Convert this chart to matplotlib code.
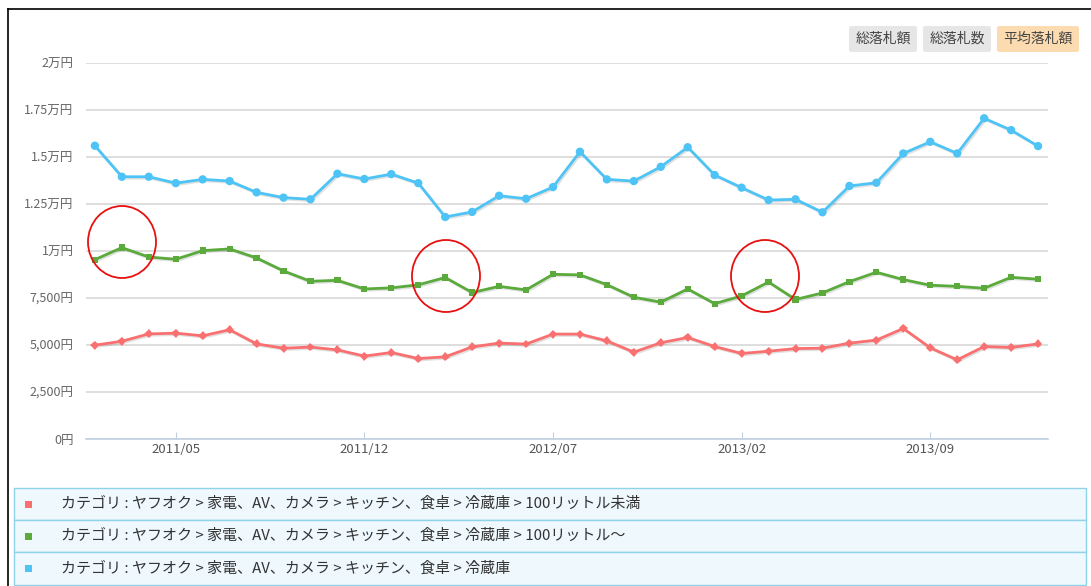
import matplotlib
matplotlib.use('Agg')
import matplotlib.pyplot as plt
from matplotlib.patches import Rectangle, Ellipse, FancyBboxPatch
import matplotlib.patheffects as pe

plt.rcParams['font.family'] = ['Noto Sans CJK JP', 'DejaVu Sans']

# monthly points 2011/02 .. 2014/01
months = [f'{2011 + (m + 1) // 12}/{(m + 1) % 12 + 1:02d}' for m in range(36)]
tick_idx = [3, 10, 17, 24, 31]
tick_labels = ['2011/05', '2011/12', '2012/07', '2013/02', '2013/09']

yticks = [0, 2500, 5000, 7500, 10000, 12500, 15000, 17500, 20000]
ytick_labels = ['0円', '2,500円', '5,000円', '7,500円', '1万円',
                '1.25万円', '1.5万円', '1.75万円', '2万円']

red_vals = [4990, 5200, 5590, 5630, 5490, 5810, 5060, 4830, 4890, 4740,
            4410, 4600, 4280, 4370, 4900, 5100, 5050, 5580, 5580, 5220,
            4620, 5120, 5400, 4920, 4550, 4670, 4810, 4830, 5100, 5260,
            5880, 4850, 4210, 4920, 4870, 5060]
green_vals = [9540, 10180, 9680, 9560, 10020, 10110, 9630, 8940, 8390, 8440,
              7980, 8040, 8200, 8590, 7790, 8120, 7930, 8760, 8730, 8210,
              7540, 7280, 7980, 7200, 7610, 8350, 7420, 7770, 8370, 8870,
              8480, 8180, 8120, 8020, 8600, 8500]
blue_vals = [15600, 13950, 13950, 13610, 13810, 13720, 13120, 12840, 12750, 14110,
             13830, 14090, 13610, 11810, 12080, 12940, 12780, 13400, 15280, 13810,
             13720, 14480, 15520, 14040, 13370, 12710, 12750, 12060, 13460, 13630,
             15190, 15810, 15190, 17060, 16430, 15580]

series_names = [
    'カテゴリ : ヤフオク > 家電、AV、カメラ > キッチン、食卓 > 冷蔵庫 > 100リットル未満',
    'カテゴリ : ヤフオク > 家電、AV、カメラ > キッチン、食卓 > 冷蔵庫 > 100リットル～',
    'カテゴリ : ヤフオク > 家電、AV、カメラ > キッチン、食卓 > 冷蔵庫',
]
colors = ['#fa7070', '#5aaa3c', '#4ec4f6']
markers = ['D', 's', 'o']
msizes = [4.5, 4.5, 6]
buttons = ['総落札額', '総落札数', '平均落札額']

W, H = 1091, 586
fig = plt.figure(figsize=(W / 100, H / 100), dpi=100)


def fx(px):
    return px / W


def fy(py):
    return 1 - py / H


ax = fig.add_axes([fx(86), fy(439), fx(1048) - fx(86), fy(63) - fy(439)])
x = list(range(len(months)))
shadow = [pe.SimpleLineShadow(offset=(1, -1), shadow_color='#000000', alpha=0.12), pe.Normal()]
for vals, c, m, ms in zip([red_vals, green_vals, blue_vals], colors, markers, msizes):
    ax.plot(x, vals, color=c, lw=2, marker=m, markersize=ms, markeredgewidth=0,
            path_effects=shadow, zorder=3)

ax.set_xlim(-0.33, 35.37)
ax.set_ylim(0, 20000)
ax.set_yticks(yticks)
ax.set_yticklabels(ytick_labels)
ax.set_xticks(tick_idx)
ax.set_xticklabels(tick_labels)
ax.grid(axis='y', color='#d8d8d8', lw=1.2)
ax.set_axisbelow(True)
for s in ['top', 'right', 'left']:
    ax.spines[s].set_visible(False)
ax.spines['bottom'].set_color('#c0d0e0')
ax.spines['bottom'].set_linewidth(1.2)
ax.tick_params(axis='y', length=0, pad=9, labelsize=9, labelcolor='#666666')
ax.tick_params(axis='x', direction='in', length=5, color='#c0d0e0', pad=3,
               labelsize=9.5, labelcolor='#555555')

# red annotation circles
for cx, cy in [(122, 242), (446, 276), (765, 276)]:
    fig.add_artist(Ellipse((fx(cx), fy(cy)), 2 * 34 / W, 2 * 36 / H,
                           transform=fig.transFigure, fill=False,
                           edgecolor='#e81010', lw=1.3))

# buttons
for (x0, x1), label, bg in zip([(849, 917), (923, 991), (997, 1079)], buttons,
                               ['#e6e6e6', '#e6e6e6', '#fddbb0']):
    fig.add_artist(FancyBboxPatch((fx(x0), fy(52)), fx(x1) - fx(x0), fy(26) - fy(52),
                                  boxstyle='round,pad=0,rounding_size=0.003',
                                  transform=fig.transFigure, facecolor=bg,
                                  edgecolor='none'))
    fig.text(fx((x0 + x1) / 2), fy(39), label, ha='center', va='center',
             fontsize=10, color='#444444')

# legend rows
row_edges = [488, 520, 552, 585]
for i, (name, c) in enumerate(zip(series_names, colors)):
    y0, y1 = row_edges[i], row_edges[i + 1]
    fig.add_artist(Rectangle((fx(14), fy(y1)), fx(1086) - fx(14), fy(y0) - fy(y1),
                             transform=fig.transFigure, facecolor='#eef8fd',
                             edgecolor='#8fd3e6', lw=1))
    fig.add_artist(Rectangle((fx(25), fy((y0 + y1) / 2 + 3.5)), 7 / W, 7 / H,
                             transform=fig.transFigure, facecolor=c, edgecolor='none'))
    fig.text(fx(61), fy((y0 + y1) / 2), name, ha='left', va='center',
             fontsize=10.8, color='#333333')

# outer frame
fig.add_artist(plt.Line2D([fx(8), 1], [fy(9), fy(9)], color='black', lw=1.2,
                          transform=fig.transFigure))
fig.add_artist(plt.Line2D([fx(8), fx(8)], [fy(9), 0], color='black', lw=1.2,
                          transform=fig.transFigure))

fig.savefig('out.png', dpi=100)
